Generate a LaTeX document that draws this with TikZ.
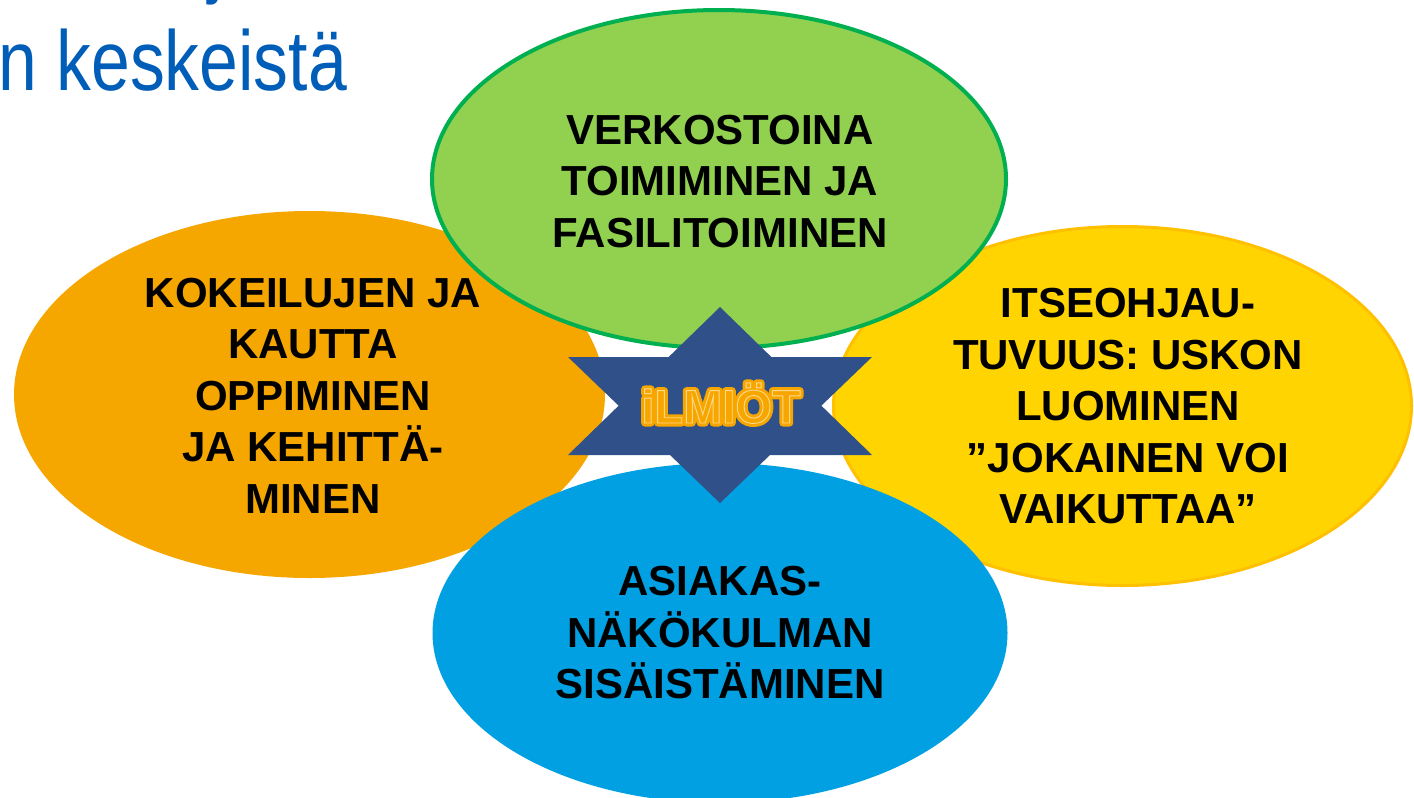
\documentclass[tikz,border=0pt]{standalone}
\usepackage{fontspec}
\usepackage{graphicx}
\setmainfont{Liberation Sans}
\usetikzlibrary{shapes.geometric}
\definecolor{gfill}{HTML}{92D050}
\definecolor{gline}{HTML}{00B050}
\definecolor{ofill}{HTML}{F5A700}
\definecolor{yfill}{HTML}{FFD400}
\definecolor{yline}{HTML}{FFC000}
\definecolor{bfill}{HTML}{00A0E3}
\definecolor{starblue}{HTML}{2F5088}
\definecolor{titleblue}{HTML}{005EB8}
\definecolor{glowlight}{HTML}{FFD98A}
\definecolor{glowor}{HTML}{F7A600}
\newcommand\strokedtext[2]{\special{pdf:literal direct #1}#2\special{pdf:literal direct 0 Tr}}
\begin{document}
\begin{tikzpicture}[x=0.5pt,y=-0.5pt,
  blob/.style={ellipse, inner sep=0pt, outer sep=0pt},
  blobtext/.style={align=center, inner sep=0pt, text=black,
    font=\fontsize{21pt}{25.75pt}\selectfont\bfseries},
  titletext/.style={anchor=base west, inner sep=0pt, text=titleblue,
    font=\fontsize{42.5pt}{50pt}\selectfont},
  glowtext/.style={anchor=base, inner sep=0pt,
    font=\fontsize{23.5pt}{28pt}\selectfont\bfseries}
]
\useasboundingbox (0,0) rectangle (1414,798);

% title fragments
\node[titletext] (titlefrag) at (208,-13) {\scalebox{0.82}[1]{j}};
\node[titletext] (title) at (-2,90) {\scalebox{0.82}[1]{n keskeistä}};

% ellipses
\node[blob, fill=ofill, minimum width=295.5pt, minimum height=183.5pt] (orange) at (309.5,394.5) {};
\node[blob, fill=yfill, draw=yline, line width=1.5pt, minimum width=289pt, minimum height=179.5pt] (yellow) at (1122.5,406) {};
\node[blob, fill=bfill, minimum width=287.5pt, minimum height=170pt] (blue) at (720,633) {};
\node[blob, fill=gfill, draw=gline, line width=2pt, minimum width=287pt, minimum height=169pt] (green) at (719,179) {};

% star
\coordinate (st) at (720,307);
\coordinate (sb) at (720,503);
\coordinate (sul) at (568,357);
\coordinate (sur) at (872,357);
\coordinate (sll) at (568,455);
\coordinate (slr) at (872,455);
\fill[starblue] (st) -- (slr) -- (sll) -- cycle;
\fill[starblue] (sb) -- (sul) -- (sur) -- cycle;

% centre word
\node[glowtext, text=glowor] (ilmiot) at (721,423) {\strokedtext{2 Tr 3.5 w 1 j}{iLMIÖT}};
\node[glowtext, text=glowlight] (ilmiotedge) at (721,423) {\strokedtext{1 Tr 0.45 w}{iLMIÖT}};

% texts
\node[blobtext] (tgreen) at (720,181.5) {VERKOSTOINA\\TOIMIMINEN JA\\FASILITOIMINEN};
\node[blobtext] (torange) at (313,395.5) {KOKEILUJEN JA\\KAUTTA\\OPPIMINEN\\JA KEHITTÄ-\\MINEN};
\node[blobtext] (tyellow) at (1128,406.5) {ITSEOHJAU-\\TUVUUS: USKON\\LUOMINEN\\”JOKAINEN VOI\\VAIKUTTAA”};
\node[blobtext] (tblue) at (720,633) {ASIAKAS-\\NÄKÖKULMAN\\SISÄISTÄMINEN};
\end{tikzpicture}
\end{document}
